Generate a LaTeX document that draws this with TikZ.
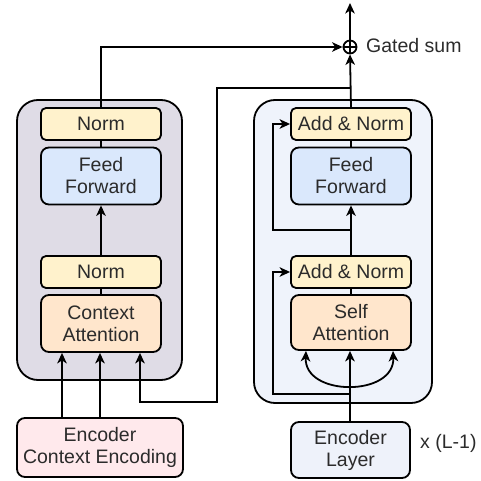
\documentclass[tikz,border=0pt]{standalone}
\usepackage{fontspec}
\setmainfont{Liberation Sans}
\usetikzlibrary{arrows.meta,calc}
\definecolor{cLeft}{HTML}{DFDCE6}
\definecolor{cRight}{HTML}{EFF3FB}
\definecolor{cNorm}{HTML}{FFF2CC}
\definecolor{cFF}{HTML}{DAE8FC}
\definecolor{cAtt}{HTML}{FFE6CC}
\definecolor{cEnc}{HTML}{FFE9EC}
\definecolor{cLay}{HTML}{EEF2FA}
\definecolor{cTxt}{HTML}{2B2B2B}
\begin{document}
\begin{tikzpicture}[x=1pt,y=-1pt,
  lw/.style={line width=1.8pt, draw=black},
  container/.style={lw, rounded corners=21pt, inner sep=0pt},
  box/.style={lw, rounded corners=8pt, inner sep=0pt, align=center,
    font=\fontsize{19.5}{22}\selectfont, text=cTxt, minimum width=120pt},
  normbox/.style={box, rounded corners=5pt, fill=cNorm, minimum height=32pt},
  ffbox/.style={box, fill=cFF, minimum height=57pt},
  attbox/.style={box, fill=cAtt, minimum height=57pt},
  lbl/.style={font=\fontsize{19.5}{22}\selectfont, text=cTxt, inner sep=0pt},
  arr/.style={lw, -{Stealth[length=10.5pt,width=9.5pt,inset=3pt]}},
  ln/.style={lw}]
\useasboundingbox (0,0) rectangle (481,481);

% containers
\node[container, fill=cLeft, minimum width=165pt, minimum height=280pt] (lc) at (99.5,240) {};
\node[container, fill=cRight, minimum width=178pt, minimum height=303pt] (rc) at (343,251.5) {};

% left column
\node[normbox] (lnorm1) at (101,124) {Norm};
\node[ffbox] (lff) at (101,176) {Feed\\Forward};
\node[normbox] (lnorm2) at (101,272) {Norm};
\node[attbox] (lca) at (101,323.5) {Context\\Attention};
\node[box, fill=cEnc, minimum width=166pt, minimum height=59pt] (enc) at (100,447.5) {Encoder\\Context Encoding};

% right column
\node[normbox] (rnorm1) at (351,124) {Add \& Norm};
\node[ffbox] (rff) at (351,176) {Feed\\Forward};
\node[normbox] (rnorm2) at (351,272) {Add \& Norm};
\node[attbox, minimum height=55pt] (rsa) at (351,322.5) {Self\\Attention};
\node[box, fill=cLay, minimum width=119pt, minimum height=56pt] (encl) at (350.5,450) {Encoder\\Layer};

% gated sum
\node[lw, circle, fill=white, minimum size=13pt, inner sep=0pt,
  path picture={\draw[line width=1.4pt] (path picture bounding box.north) -- (path picture bounding box.south)
    (path picture bounding box.west) -- (path picture bounding box.east);}] (gs) at (350,47) {};
\node[lbl, anchor=west] (gslbl) at (366,46) {Gated sum};
\node[lbl, anchor=west] (rep) at (420,443) {x (L-1)};

% coordinates
\coordinate (top) at (350,3);
\coordinate (j) at (350,88);
\coordinate (c1) at (140,402);
\coordinate (r1) at (350,230);
\coordinate (r2) at (350,394);

% left connectors
\draw[ln] (lca.north) -- (lnorm2.south);
\draw[arr] (lnorm2.north) -- (lff.south);
\draw[ln] (lff.north) -- (lnorm1.south);
\draw[arr] (lnorm1.north) |- (gs.west);
\draw[arr] (enc.north -| 62,0) -- (lca.south -| 62,0);
\draw[arr] (enc.north -| 100,0) -- (lca.south -| 100,0);
\draw[arr] (j) -- (217,88) |- (c1) -- (c1 |- lca.south);

% right connectors
\draw[arr] (rnorm1.north) -- (gs.south);
\draw[arr] (gs.north) -- (top);
\draw[ln] (rff.north) -- (rnorm1.south);
\draw[arr] (rnorm2.north) -- (rff.south);
\draw[ln] (rsa.north) -- (rnorm2.south);
\draw[arr] (r1) -- (273,230) |- (rnorm1.west);
\draw[arr] (r2) -- (273,394) |- (rnorm2.west);
\draw[arr] (encl.north -| 350,0) -- (rsa.south -| 350,0);
\draw[lw, {Stealth[length=10.5pt,width=9.5pt,inset=3pt]}-{Stealth[length=10.5pt,width=9.5pt,inset=3pt]}]
  ([xshift=-45pt]rsa.south) .. controls +(-2,46) and +(2,46) .. ([xshift=42pt]rsa.south);
\end{tikzpicture}
\end{document}
